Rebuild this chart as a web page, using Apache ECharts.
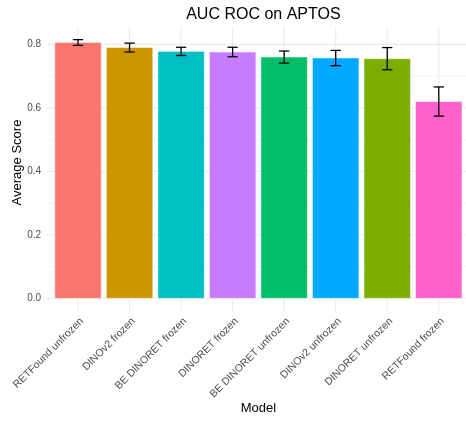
<!DOCTYPE html>
<html>
<head>
<meta charset="utf-8">
<script src="https://cdn.jsdelivr.net/npm/echarts@6/dist/echarts.min.js"></script>
<style>
html,body{margin:0;padding:0;background:#fff;}
#chart{width:466px;height:423px;}
</style>
</head>
<body>
<div id="chart"></div>
<script>
const categories = ['RETFound unfrozen','DINOv2 frozen','BE DINORET frozen','DINORET frozen','BE DINORET unfrozen','DINOv2 unfrozen','DINORET unfrozen','RETFound frozen'];
const meanScores = [0.806, 0.790, 0.778, 0.776, 0.760, 0.757, 0.755, 0.620];
const errHalf = [0.009, 0.014, 0.013, 0.015, 0.019, 0.024, 0.035, 0.046];
const barColors = ['#F8766D','#CD9600','#00BFC4','#C77CFF','#00BE67','#00A9FF','#7CAE00','#FF61CC'];
const yMajorTicks = [0, 0.2, 0.4, 0.6, 0.8];
const yMinorTicks = [0.1, 0.3, 0.5, 0.7];

const FONT = '"Liberation Sans", Arial, Helvetica, sans-serif';
const positions = categories.map((c, i) => i + 1);
const xMin = 0.4, xMax = categories.length + 0.6;
const yDataMax = Math.max(...meanScores.map((m, i) => m + errHalf[i]));
const yTop = yDataMax * 1.05;
const yBottom = -yDataMax * 0.05;
const BAR_W = 0.9, CAP_W = 0.2;

const chart = echarts.init(document.getElementById('chart'), null, {renderer: 'canvas'});

function lineShape(p1, p2) {
  return {x1: p1[0], y1: p1[1], x2: p2[0], y2: p2[1]};
}

const option = {
  animation: false,
  backgroundColor: '#ffffff',
  textStyle: {fontFamily: FONT},
  title: {
    text: 'AUC ROC on APTOS',
    left: 258.4,
    textAlign: 'center',
    top: 2,
    textStyle: {fontFamily: FONT, fontSize: 16, fontWeight: 'normal', color: '#000'}
  },
  grid: {left: 47.1, top: 26.7, width: 422.6, height: 271.6, containLabel: false, outerBoundsMode: 'none'},
  xAxis: {
    type: 'value',
    min: xMin,
    max: xMax,
    interval: 0.2,
    axisLine: {show: false},
    axisTick: {show: false},
    splitLine: {show: false},
    name: 'Model',
    nameLocation: 'middle',
    nameGap: 104,
    nameMoveOverlap: false,
    nameTextStyle: {fontFamily: FONT, fontSize: 13, color: '#000'},
    axisLabel: {
      rotate: 45,
      margin: 17.5,
      verticalAlign: 'top',
      fontFamily: FONT,
      fontSize: 10.5,
      color: '#4D4D4D',
      showMinLabel: true,
      showMaxLabel: true,
      formatter: function (v) {
        const r = Math.round(v);
        if (Math.abs(v - r) < 1e-6 && r >= 1 && r <= categories.length) return categories[r - 1];
        return '';
      }
    }
  },
  yAxis: {
    type: 'value',
    min: 0,
    max: yTop,
    interval: 0.2,
    axisLine: {show: false},
    axisTick: {show: false},
    splitLine: {show: false},
    name: 'Average Score',
    nameLocation: 'middle',
    nameGap: 23,
    nameMoveOverlap: false,
    nameTextStyle: {fontFamily: FONT, fontSize: 13, color: '#000'},
    axisLabel: {
      margin: 6,
      fontFamily: FONT,
      fontSize: 10,
      color: '#4D4D4D',
      formatter: function (v) {
        for (const t of yMajorTicks) if (Math.abs(v - t) < 1e-6) return t.toFixed(1);
        return '';
      }
    }
  },
  series: [
    {
      type: 'custom', name: 'minorGridY', clip: false, silent: true, z: 1,
      data: yMinorTicks.map(v => [xMin, v]),
      renderItem: function (params, api) {
        const v = api.value(1);
        return {type: 'line', shape: lineShape(api.coord([xMin, v]), api.coord([xMax, v])),
          style: {stroke: '#EBEBEB', lineWidth: 0.6}};
      }
    },
    {
      type: 'custom', name: 'majorGridY', clip: false, silent: true, z: 1,
      data: yMajorTicks.map(v => [xMin, v]),
      renderItem: function (params, api) {
        const v = api.value(1);
        return {type: 'line', shape: lineShape(api.coord([xMin, v]), api.coord([xMax, v])),
          style: {stroke: '#EBEBEB', lineWidth: 1.1}};
      }
    },
    {
      type: 'custom', name: 'majorGridX', clip: false, silent: true, z: 1,
      data: positions.map(p => [p, 0]),
      renderItem: function (params, api) {
        const p = api.value(0);
        return {type: 'line', shape: lineShape(api.coord([p, yBottom]), api.coord([p, yTop])),
          style: {stroke: '#EBEBEB', lineWidth: 1.1}};
      }
    },
    {
      type: 'custom', name: 'bars', clip: false, z: 2,
      data: positions.map((p, i) => [p, meanScores[i]]),
      renderItem: function (params, api) {
        const p = api.value(0), v = api.value(1);
        const tl = api.coord([p - BAR_W / 2, v]);
        const br = api.coord([p + BAR_W / 2, 0]);
        return {type: 'rect', shape: {x: tl[0], y: tl[1], width: br[0] - tl[0], height: br[1] - tl[1]},
          style: {fill: barColors[params.dataIndex], stroke: 'rgba(255,255,255,0.45)', lineWidth: 1}};
      }
    },
    {
      type: 'custom', name: 'errorBars', clip: false, z: 3,
      data: positions.map((p, i) => [p, meanScores[i] - errHalf[i], meanScores[i] + errHalf[i]]),
      renderItem: function (params, api) {
        const p = api.value(0), lo = api.value(1), hi = api.value(2);
        const st = {stroke: '#000', lineWidth: 1.3};
        return {type: 'group', children: [
          {type: 'line', shape: lineShape(api.coord([p, lo]), api.coord([p, hi])), style: st},
          {type: 'line', shape: lineShape(api.coord([p - CAP_W / 2, hi]), api.coord([p + CAP_W / 2, hi])), style: st},
          {type: 'line', shape: lineShape(api.coord([p - CAP_W / 2, lo]), api.coord([p + CAP_W / 2, lo])), style: st}
        ]};
      }
    }
  ]
};
chart.setOption(option);
</script>
</body>
</html>
